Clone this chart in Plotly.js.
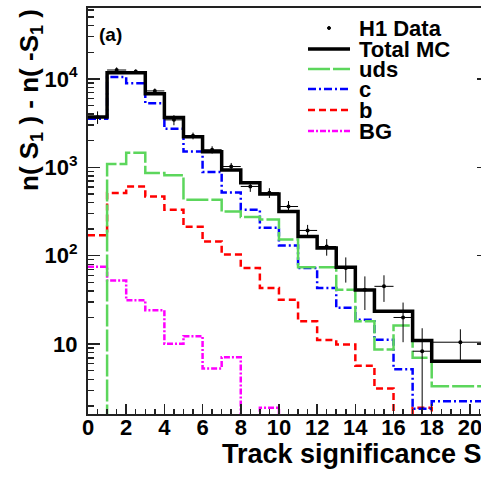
<!DOCTYPE html>
<html><head><meta charset="utf-8">
<script src="https://cdn.plot.ly/plotly-3.0.1.min.js"></script>
<style>html,body{margin:0;padding:0;overflow:hidden;background:#fff}#chart{width:500px;height:479px}</style>
</head><body><div id="chart"></div>
<script>
// Bin edges (last bin is 18-21)
const binEdges = [0,1,2,3,4,5,6,7,8,9,10,11,12,13,14,15,16,17,18,21];
// Monte Carlo contributions per bin (values of 1 lie below the plotted range)
const totalMC = [3700,11700,11700,6800,3650,2220,1500,930,670,500,316,165,122,74,41,23.5,23.5,11,6.4];
const uds     = [1,1090,1460,859,815,430,430,316,274,256,152,74,74,41.3,18.1,8.7,16.2,7.0,3.34];
const charm   = [3550,10500,8950,5310,2720,1510,887,519,331,207,130,72.6,43.1,25.7,18.9,11.2,5.2,1.85,2.25];
const beauty  = [170,511,608,468,331,212,145,103,72.6,43.1,31.8,18.1,11.1,9.9,5.7,3.15,1,1.9,1];
const bg      = [75,52.3,31.3,24.1,10.1,12.3,5.3,7.1,1,1.9,1,1,1,1,1,1,1,1,1];
// H1 data points
const dataX    = [0.5,1.5,2.5,3.5,4.5,5.5,6.5,7.5,8.5,9.5,10.5,11.5,12.5,13.5,14.5,15.5,16.5,17.5,19.5];
const dataY    = [3690,12600,12100,7310,3440,2270,1580,1020,607,515,360,193,127,72.6,41.3,45,20,8.3,10.5];
const dataYErr = [600,900,700,480,450,200,150,100,80,65,55,30,27,23,17,15,9.5,6.8,4.2];
const dataXErr = [0.5,0.5,0.5,0.5,0.5,0.5,0.5,0.5,0.5,0.5,0.5,0.5,0.5,0.5,0.5,0.5,0.5,0.5,1.5];
// Tick labels
const yTickVals = [10,100,1000,10000];
const yTickText = ['10','10<sup>2</sup>','10<sup>3</sup>','10<sup>4</sup>'];
const legendNames = ['H1 Data','Total MC','uds','c','b','BG'];

const stepY = v => v.concat([v[v.length-1]]);
const FONT = 'Arial, "Liberation Sans", Helvetica, sans-serif';

const styles = {
  mc:   {color:'#000000', width:3.5, dash:'solid'},
  uds:  {color:'#5cd65c', width:2.5, dash:'22px,3px'},
  c:    {color:'#0000ff', width:2.5, dash:'8px,3px,2px,3px'},
  b:    {color:'#ff0000', width:2.5, dash:'7px,4px'},
  bg:   {color:'#ff00ff', width:2.5, dash:'6px,2px,2px,2px'}
};

function stepTrace(vals, st){
  return {x: binEdges, y: stepY(vals), type:'scatter', mode:'lines',
          line:{shape:'hv', color:st.color, width:st.width, dash:st.dash},
          hoverinfo:'skip'};
}

const traces = [
  stepTrace(bg, styles.bg),
  stepTrace(beauty, styles.b),
  stepTrace(charm, styles.c),
  stepTrace(uds, styles.uds),
  stepTrace(totalMC, styles.mc),
  {x:dataX, y:dataY, type:'scatter', mode:'markers',
   marker:{color:'#000', size:4},
   error_y:{type:'data', array:dataYErr, visible:true, color:'#000', thickness:1, width:0},
   error_x:{type:'data', array:dataXErr, visible:true, color:'#000', thickness:1, width:0}}
];

// minor tick positions for the log axis
const yMinor = [];
for (let d=1; d<=10000; d*=10){ for (let k=2;k<=9;k++){ yMinor.push(k*d); } }

const PL=88, PW=401, PT=8, PH=406;
const px = x => (x-PL)/PW;
const py = y => (PT+PH-y)/PH;

const legRows = [28, 49, 69, 89, 110, 131];
const legStyles = [null, styles.mc, styles.uds, styles.c, styles.b, styles.bg];
const shapes = [];
const annotations = [];
legendNames.forEach((name,i)=>{
  const st = legStyles[i];
  if (st){
    shapes.push({type:'line', xref:'paper', yref:'paper', x0:px(308), x1:px(350), y0:py(legRows[i]), y1:py(legRows[i]),
                 line:{color:st.color, width:st.width, dash:st.dash}});
  } else {
    shapes.push({type:'circle', xref:'paper', yref:'paper', x0:px(327.5), x1:px(330.5), y0:py(legRows[i]+1.5), y1:py(legRows[i]-1.5),
                 fillcolor:'#000', line:{color:'#000', width:1}});
  }
  annotations.push({text:name, xref:'paper', yref:'paper', x:px(357), y:py(legRows[i]), xanchor:'left', yanchor:'middle',
                    showarrow:false, font:{family:FONT, size:22, color:'#000', weight:'bold'}});
});
annotations.push({text:'(a)', xref:'paper', yref:'paper', x:px(110), y:py(35), xanchor:'center', yanchor:'middle',
                  showarrow:false, font:{family:FONT, size:19, color:'#000', weight:'bold'}});
annotations.push({text:'n( S<sub>1</sub> ) - n( -S<sub>1</sub> )', xref:'paper', yref:'paper', x:px(31), y:py(100),
                  xanchor:'center', yanchor:'middle', textangle:-90, showarrow:false,
                  font:{family:FONT, size:26, color:'#000', weight:'bold'}});
annotations.push({text:'Track significance S<sub>1</sub>', xref:'paper', yref:'paper', x:px(220), y:py(456),
                  xanchor:'left', yanchor:'middle', showarrow:false,
                  font:{family:FONT, size:27, color:'#000', weight:'bold'}});

const layout = {
  width:500, height:479,
  margin:{l:PL, r:11, t:PT, b:65},
  paper_bgcolor:'#fff', plot_bgcolor:'#fff',
  showlegend:false,
  xaxis:{range:[0,21], tick0:0, dtick:2, ticks:'inside', ticklen:10, tickwidth:1.5, tickcolor:'#222',
         showline:true, linewidth:2, linecolor:'#222', mirror:true, showgrid:false, zeroline:false,
         ticklabelstandoff:-7,
         tickfont:{family:FONT, size:22, color:'#000', weight:'bold'},
         minor:{dtick:0.5, ticks:'inside', ticklen:5, tickwidth:1.5, tickcolor:'#222', showgrid:false}},
  yaxis:{type:'log', range:[0.209,4.802], tickmode:'array', tickvals:yTickVals, ticktext:yTickText,
         ticks:'inside', ticklen:12, tickwidth:1.5, tickcolor:'#222',
         showline:true, linewidth:2, linecolor:'#222', mirror:'allticks', showgrid:false, zeroline:false,
         ticklabelstandoff:4,
         tickfont:{family:FONT, size:22, color:'#000', weight:'bold'},
         minor:{tickmode:'array', tickvals:yMinor, ticks:'inside', ticklen:6, tickwidth:1.5, tickcolor:'#222', showgrid:false}},
  shapes:shapes,
  annotations:annotations
};

Plotly.newPlot('chart', traces, layout, {staticPlot:true, displayModeBar:false});
</script>
</body></html>
